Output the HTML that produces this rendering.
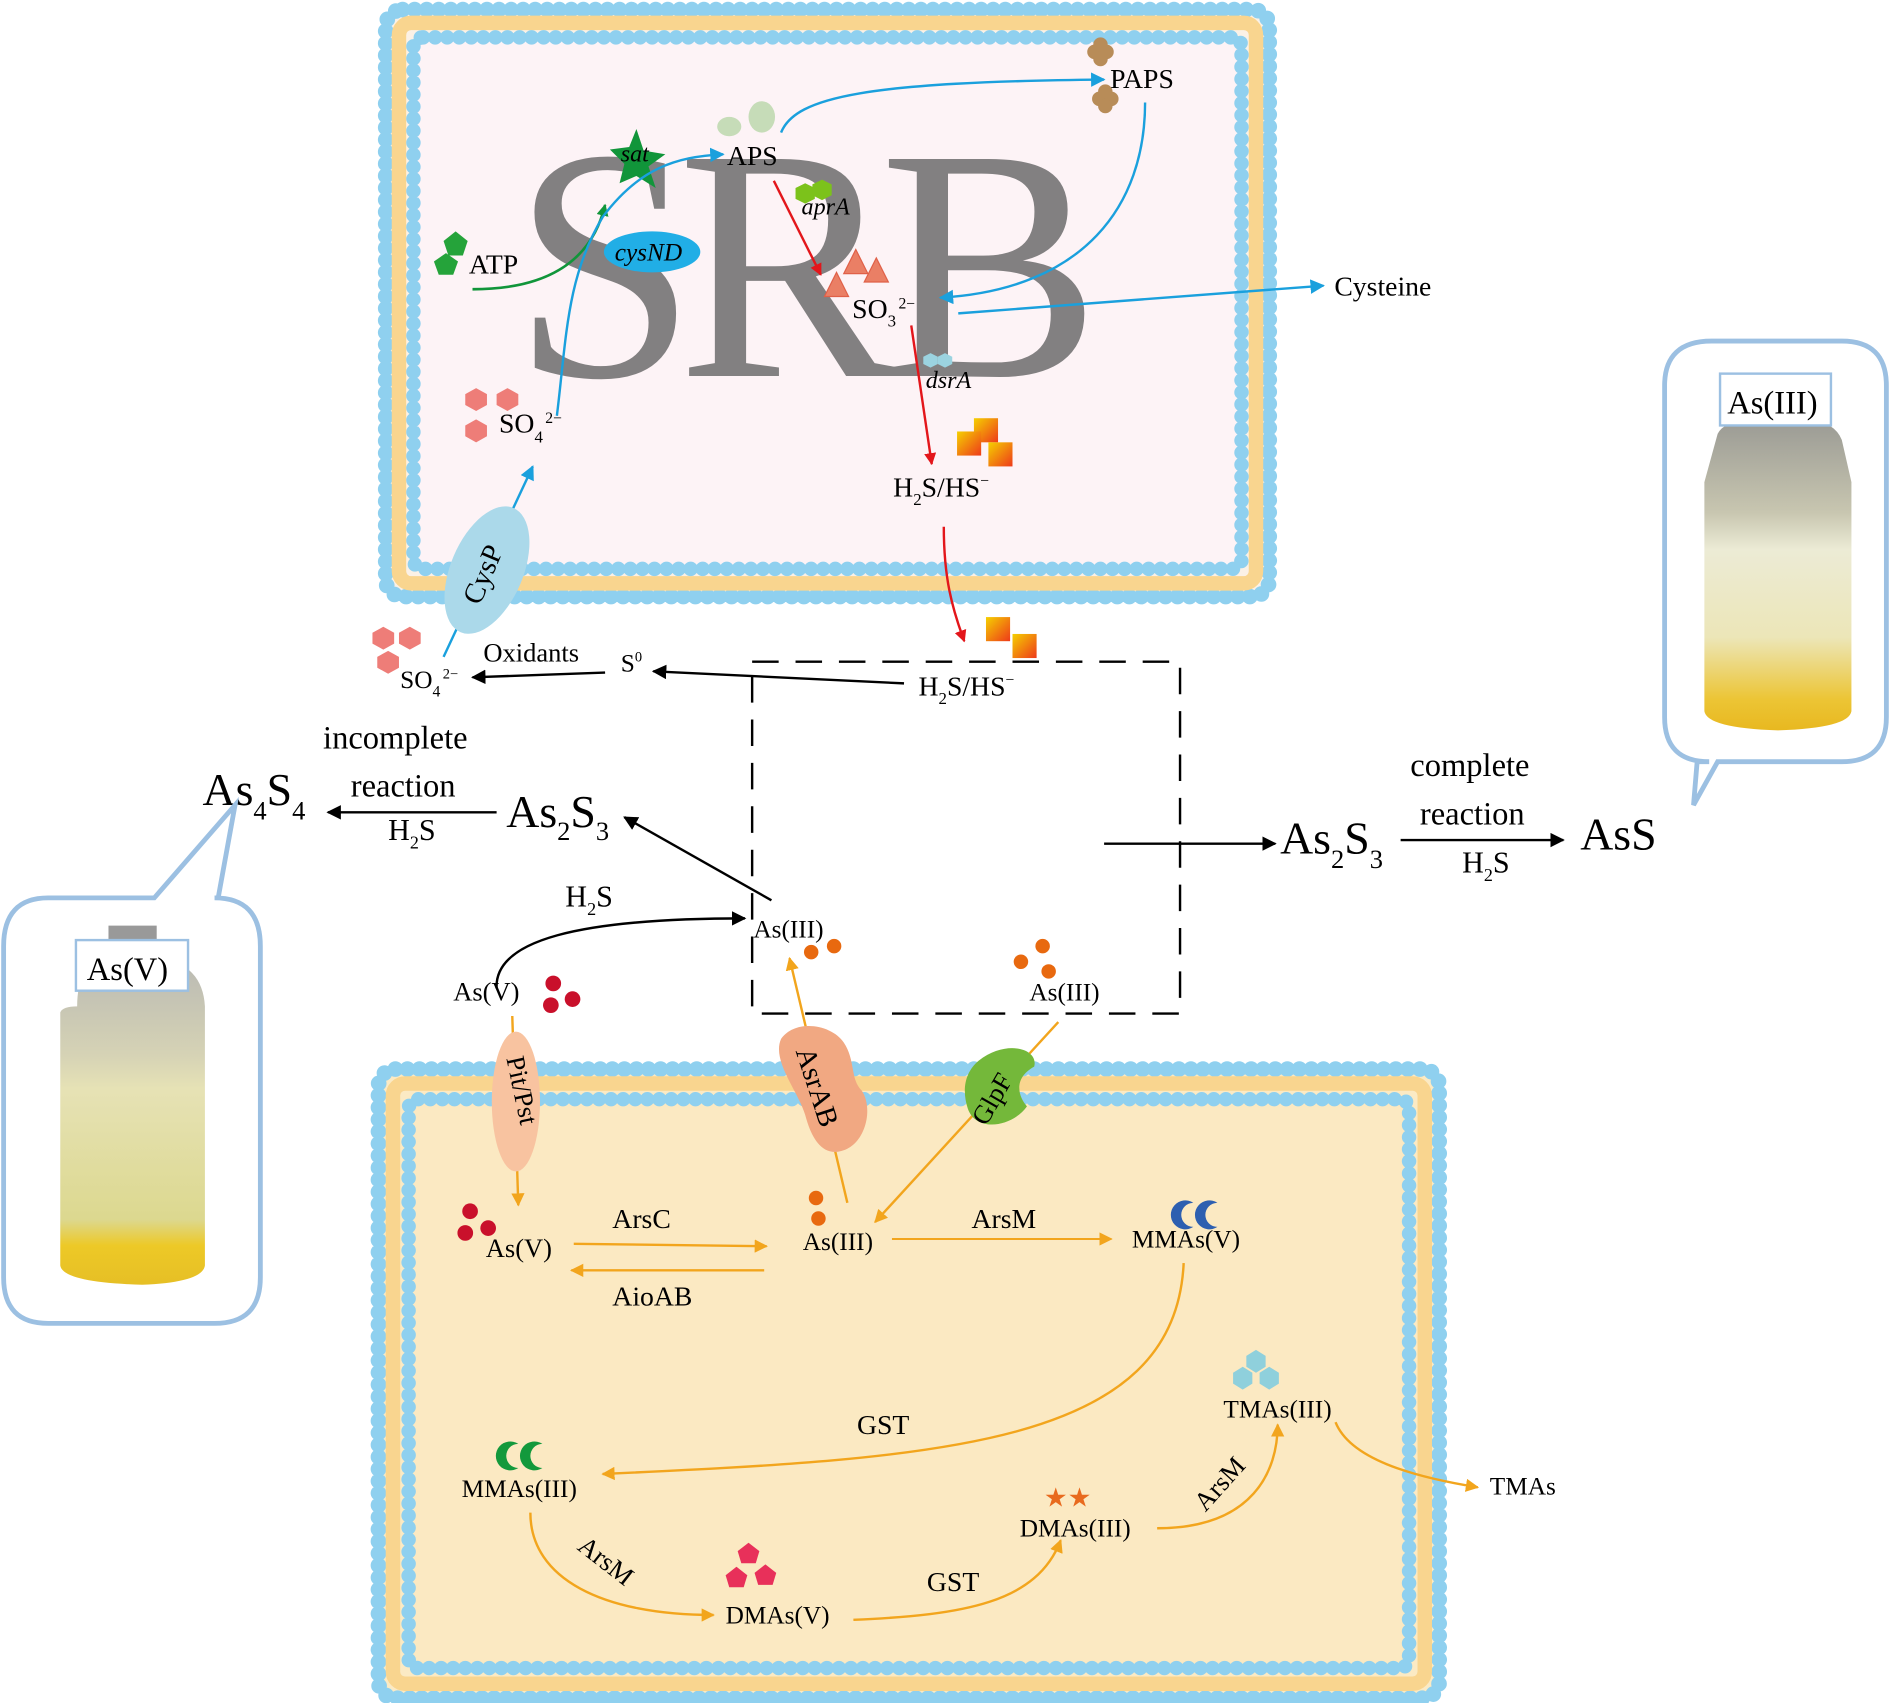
<!DOCTYPE html>
<html><head><meta charset="utf-8"><style>html,body{margin:0;padding:0;background:#fff}svg{display:block}text{font-family:"Liberation Serif",serif}</style></head>
<body>
<svg width="1890" height="1703" viewBox="0 0 1568 1413" preserveAspectRatio="none" xmlns="http://www.w3.org/2000/svg">
<defs>
<marker id="ab" viewBox="0 0 10 10" refX="9" refY="5" markerWidth="7" markerHeight="7" orient="auto" markerUnits="userSpaceOnUse"><path d="M0,0L10,5L0,10z" fill="#1aa0dd"/></marker>
<marker id="abB" viewBox="0 0 10 10" refX="9" refY="5" markerWidth="12" markerHeight="12" orient="auto" markerUnits="userSpaceOnUse"><path d="M0,0L10,5L0,10z" fill="#1aa0dd"/></marker>
<marker id="ar" viewBox="0 0 10 10" refX="9" refY="5" markerWidth="10" markerHeight="10" orient="auto" markerUnits="userSpaceOnUse"><path d="M0,0L10,5L0,10z" fill="#e3161b"/></marker>
<marker id="ak" viewBox="0 0 10 10" refX="9" refY="5" markerWidth="12" markerHeight="12" orient="auto" markerUnits="userSpaceOnUse"><path d="M0,0L10,5L0,10z" fill="#000"/></marker>
<marker id="ao" viewBox="0 0 10 10" refX="9" refY="5" markerWidth="11" markerHeight="11" orient="auto" markerUnits="userSpaceOnUse"><path d="M0,0L10,5L0,10z" fill="#f2a51d"/></marker>
<marker id="ag" viewBox="0 0 10 10" refX="9" refY="5" markerWidth="10" markerHeight="10" orient="auto" markerUnits="userSpaceOnUse"><path d="M0,0L10,5L0,10z" fill="#11953a"/></marker>
<linearGradient id="bot" x1="0" y1="0" x2="0" y2="1"><stop offset="0" stop-color="#b9b9b3"/><stop offset="0.3" stop-color="#d6d3b5"/><stop offset="0.4" stop-color="#e6e2b5"/><stop offset="0.8" stop-color="#dcd88f"/><stop offset="0.88" stop-color="#edc927"/><stop offset="1" stop-color="#e6bf25"/></linearGradient>
<linearGradient id="bot2" x1="0" y1="0" x2="0" y2="1"><stop offset="0" stop-color="#9a9a94"/><stop offset="0.3" stop-color="#c8c6b0"/><stop offset="0.42" stop-color="#ecebd5"/><stop offset="0.7" stop-color="#ece6b8"/><stop offset="0.9" stop-color="#ecc535"/><stop offset="1" stop-color="#e8b820"/></linearGradient>
<linearGradient id="sq" x1="0" y1="0" x2="1" y2="1"><stop offset="0" stop-color="#f5d000"/><stop offset="1" stop-color="#ee3a1a"/></linearGradient>
</defs>

<!-- top cell -->
<rect x="320" y="8" width="733" height="487" rx="14" fill="#fbf1e6" stroke="#8fd0ef" stroke-width="13" stroke-dasharray="0 10" stroke-linecap="round"/>
<rect x="331" y="19" width="711" height="465" rx="10" fill="none" stroke="#f9d58f" stroke-width="12"/>
<rect x="343" y="31" width="687" height="441" rx="8" fill="#fdf3f6" stroke="#8fd0ef" stroke-width="12" stroke-dasharray="0 10" stroke-linecap="round"/>
<text x="425" y="312" font-size="275" fill="#828081" textLength="488" lengthAdjust="spacing">SRB</text>

<!-- bottom cell -->
<rect x="314" y="887" width="880" height="522" rx="14" fill="#fbeac4" stroke="#8fd0ef" stroke-width="13" stroke-dasharray="0 10" stroke-linecap="round"/>
<rect x="326" y="899" width="856" height="498" rx="10" fill="none" stroke="#f9d58f" stroke-width="12"/>
<rect x="339" y="912" width="830" height="472" rx="8" fill="#fbe9c2" stroke="#8fd0ef" stroke-width="12" stroke-dasharray="0 10" stroke-linecap="round"/>

<!-- dashed box -->
<rect x="624" y="549" width="355" height="292" fill="none" stroke="#000" stroke-width="2" stroke-dasharray="22 14"/>

<!-- top shapes -->
<path d="M528,107 L534,125 L552,128 L538,138 L544,156 L528,146 L514,152 L518,136 L506,124 L522,122z" fill="#11953a"/>
<text x="515" y="134" font-size="20" font-style="italic">sat</text>
<polygon points="378,192 388,200 384,212 372,212 368,200" fill="#25a33a"/>
<polygon points="370,210 380,217 376,228 364,228 360,217" fill="#25a33a"/>
<text x="389" y="227" font-size="23">ATP</text>
<ellipse cx="541" cy="209" rx="40" ry="17" fill="#21aee6"/>
<text x="510" y="216" font-size="21" font-style="italic">cysND</text>
<ellipse cx="605" cy="105" rx="10" ry="8" fill="#c6dcb8"/><ellipse cx="632" cy="97" rx="11" ry="13" fill="#c6dcb8"/>
<text x="603" y="137" font-size="23">APS</text>
<g fill="#b88c58"><circle cx="908" cy="43" r="6"/><circle cx="918" cy="43" r="6"/><circle cx="913" cy="37" r="6"/><circle cx="913" cy="49" r="6"/><circle cx="912" cy="82" r="6"/><circle cx="922" cy="82" r="6"/><circle cx="917" cy="76" r="6"/><circle cx="917" cy="88" r="6"/></g>
<text x="921" y="73" font-size="23">PAPS</text>
<g fill="#7cc21b"><polygon points="668,152 676,156 676,165 668,169 660,165 660,156"/><polygon points="682,149 690,153 690,162 682,166 674,162 674,153"/></g>
<text x="665" y="178" font-size="20" font-style="italic">aprA</text>
<g fill="#ea7f65" stroke="#e06048" stroke-width="1"><polygon points="694,226 704,246 684,246"/><polygon points="710,207 720,227 700,227"/><polygon points="727,214 737,234 717,234"/></g>
<text x="707" y="264" font-size="23">SO<tspan font-size="14" dy="7">3</tspan><tspan font-size="13" dy="-15" dx="2">2−</tspan></text>
<text x="1107" y="245" font-size="23">Cysteine</text>
<g fill="#9bd3e0"><polygon points="772,293 778,296 778,302 772,305 766,302 766,296"/><polygon points="784,293 790,296 790,302 784,305 778,302 778,296"/></g>
<text x="768" y="322" font-size="20" font-style="italic">dsrA</text>
<g fill="#ee7d78"><polygon points="395,322 404,327 404,336 395,341 386,336 386,327"/><polygon points="421,322 430,327 430,336 421,341 412,336 412,327"/><polygon points="395,348 404,353 404,362 395,367 386,362 386,353"/></g>
<text x="414" y="359" font-size="23">SO<tspan font-size="14" dy="8">4</tspan><tspan font-size="13" dy="-16" dx="2">2−</tspan></text>
<rect x="808" y="347" width="20" height="20" fill="url(#sq)"/><rect x="794" y="358" width="20" height="20" fill="url(#sq)"/><rect x="820" y="367" width="20" height="20" fill="url(#sq)"/>
<text x="741" y="412" font-size="23">H<tspan font-size="14" dy="7">2</tspan><tspan dy="-7">S/HS</tspan><tspan font-size="13" dy="-9">−</tspan></text>

<!-- top arrows -->
<path d="M392,240 C450,240 490,220 502,170" fill="none" stroke="#11953a" stroke-width="2.2" marker-end="url(#ag)"/>
<path d="M462,345 C470,280 470,230 500,180 C530,140 560,130 600,128" fill="none" stroke="#1aa0dd" stroke-width="2" marker-end="url(#abB)"/>
<path d="M648,110 C660,80 720,68 916,66" fill="none" stroke="#1aa0dd" stroke-width="2" marker-end="url(#abB)"/>
<path d="M950,85 C950,170 900,240 780,247" fill="none" stroke="#1aa0dd" stroke-width="2" marker-end="url(#abB)"/>
<line x1="795" y1="260" x2="1098" y2="237" stroke="#1aa0dd" stroke-width="2" marker-end="url(#abB)"/>
<line x1="642" y1="150" x2="681" y2="228" stroke="#e3161b" stroke-width="2" marker-end="url(#ar)"/>
<line x1="756" y1="270" x2="773" y2="385" stroke="#e3161b" stroke-width="2" marker-end="url(#ar)"/>
<path d="M783,437 C783,480 790,505 800,532" fill="none" stroke="#e3161b" stroke-width="2" marker-end="url(#ar)"/>
<line x1="368" y1="545" x2="442" y2="387" stroke="#1aa0dd" stroke-width="2" marker-end="url(#abB)"/>
<ellipse cx="404" cy="473" rx="30" ry="56" transform="rotate(23 404 473)" fill="#abd9ea"/>
<text x="0" y="0" font-size="24" transform="translate(398,503) rotate(-67)">CysP</text>

<!-- middle -->
<rect x="818" y="512" width="20" height="20" fill="url(#sq)"/><rect x="840" y="526" width="20" height="20" fill="url(#sq)"/>
<text x="762" y="577" font-size="23">H<tspan font-size="14" dy="7">2</tspan><tspan dy="-7">S/HS</tspan><tspan font-size="13" dy="-9">−</tspan></text>
<line x1="750" y1="567" x2="542" y2="557" stroke="#000" stroke-width="2" marker-end="url(#ak)"/>
<text x="515" y="557" font-size="21">S<tspan font-size="12" dy="-8">0</tspan></text>
<line x1="502" y1="558" x2="392" y2="562" stroke="#000" stroke-width="2" marker-end="url(#ak)"/>
<text x="401" y="549" font-size="22">Oxidants</text>
<g fill="#ee7d78"><polygon points="318,520 327,525 327,534 318,539 309,534 309,525"/><polygon points="340,520 349,525 349,534 340,539 331,534 331,525"/><polygon points="322,540 331,545 331,554 322,559 313,554 313,545"/></g>
<text x="332" y="571" font-size="21">SO<tspan font-size="13" dy="7">4</tspan><tspan font-size="12" dy="-15" dx="2">2−</tspan></text>

<text x="268" y="621" font-size="27">incomplete</text>
<text x="291" y="661" font-size="27">reaction</text>
<text x="322" y="697" font-size="25">H<tspan font-size="15" dy="7">2</tspan><tspan dy="-7">S</tspan></text>
<line x1="412" y1="674" x2="272" y2="674" stroke="#000" stroke-width="2" marker-end="url(#ak)"/>
<text x="168" y="668" font-size="38">As<tspan font-size="22" dy="12">4</tspan><tspan dy="-12">S</tspan><tspan font-size="22" dy="12">4</tspan></text>
<text x="420" y="686" font-size="38">As<tspan font-size="22" dy="11">2</tspan><tspan dy="-11">S</tspan><tspan font-size="22" dy="11">3</tspan></text>
<line x1="640" y1="747" x2="518" y2="678" stroke="#000" stroke-width="2" marker-end="url(#ak)"/>

<line x1="916" y1="700" x2="1058" y2="700" stroke="#000" stroke-width="2" marker-end="url(#ak)"/>
<text x="1062" y="708" font-size="38">As<tspan font-size="22" dy="12">2</tspan><tspan dy="-12">S</tspan><tspan font-size="22" dy="12">3</tspan></text>
<text x="1170" y="644" font-size="27">complete</text>
<text x="1178" y="684" font-size="27">reaction</text>
<line x1="1162" y1="697" x2="1297" y2="697" stroke="#000" stroke-width="2" marker-end="url(#ak)"/>
<text x="1213" y="724" font-size="25">H<tspan font-size="15" dy="7">2</tspan><tspan dy="-7">S</tspan></text>
<text x="1311" y="705" font-size="38">AsS</text>

<text x="469" y="752" font-size="25">H<tspan font-size="15" dy="7">2</tspan><tspan dy="-7">S</tspan></text>
<path d="M412,820 C410,780 480,762 618,762" fill="none" stroke="#000" stroke-width="2" marker-end="url(#ak)"/>
<text x="625" y="778" font-size="21">As(III)</text>
<circle cx="673" cy="790" r="6" fill="#e8690f"/><circle cx="692" cy="785" r="6" fill="#e8690f"/>
<circle cx="865" cy="785" r="6" fill="#e8690f"/><circle cx="847" cy="798" r="6" fill="#e8690f"/><circle cx="870" cy="806" r="6" fill="#e8690f"/>
<text x="854" y="830" font-size="21">As(III)</text>
<text x="376" y="830" font-size="22">As(V)</text>
<circle cx="459" cy="816" r="6.5" fill="#c9102b"/><circle cx="457" cy="834" r="6.5" fill="#c9102b"/><circle cx="475" cy="829" r="6.5" fill="#c9102b"/>

<!-- transport -->
<line x1="425" y1="843" x2="430" y2="1000" stroke="#f2a51d" stroke-width="2" marker-end="url(#ao)"/>
<ellipse cx="428" cy="914" rx="20" ry="58" fill="#f8c3a0"/>
<text x="0" y="0" font-size="22" transform="translate(420,878) rotate(78)">Pit/Pst</text>
<line x1="703" y1="998" x2="655" y2="795" stroke="#f2a51d" stroke-width="2" marker-end="url(#ao)"/>
<path d="M648,862 C660,845 690,850 700,865 C710,880 705,895 715,905 C725,920 718,950 698,955 C680,960 672,940 668,925 C662,905 640,880 648,862z" fill="#f1a882"/>
<text x="0" y="0" font-size="24" transform="translate(660,872) rotate(72)">AsrAB</text>
<line x1="878" y1="848" x2="726" y2="1014" stroke="#f2a51d" stroke-width="2" marker-end="url(#ao)"/>
<path d="M812,880 C835,862 862,870 858,885 C840,895 845,910 852,918 C840,935 810,940 803,920 C798,905 800,890 812,880z" fill="#74b83a"/>
<text x="0" y="0" font-size="22" transform="translate(818,935) rotate(-60)">GlpF</text>

<!-- bottom pathway -->
<circle cx="390" cy="1005" r="6.5" fill="#c9102b"/><circle cx="386" cy="1023" r="6.5" fill="#c9102b"/><circle cx="405" cy="1019" r="6.5" fill="#c9102b"/>
<text x="403" y="1043" font-size="22">As(V)</text>
<line x1="476" y1="1032" x2="636" y2="1034" stroke="#f2a51d" stroke-width="2" marker-end="url(#ao)"/>
<text x="508" y="1019" font-size="23">ArsC</text>
<line x1="634" y1="1054" x2="474" y2="1054" stroke="#f2a51d" stroke-width="2" marker-end="url(#ao)"/>
<text x="508" y="1083" font-size="23">AioAB</text>
<circle cx="677" cy="994" r="6" fill="#e8690f"/><circle cx="679" cy="1011" r="6" fill="#e8690f"/>
<text x="666" y="1037" font-size="21">As(III)</text>
<line x1="740" y1="1028" x2="922" y2="1028" stroke="#f2a51d" stroke-width="1.6" marker-end="url(#ao)"/>
<text x="806" y="1019" font-size="23">ArsM</text>
<path d="M990,998 a12,12 0 1,0 0,20 a9,9 0 1,1 0,-20z" fill="#2d5fb0"/><path d="M1010,998 a12,12 0 1,0 0,20 a9,9 0 1,1 0,-20z" fill="#2d5fb0"/>
<text x="939" y="1035" font-size="21">MMAs(V)</text>
<path d="M982,1048 C975,1200 780,1210 500,1223" fill="none" stroke="#f2a51d" stroke-width="2" marker-end="url(#ao)"/>
<text x="711" y="1190" font-size="23">GST</text>
<path d="M430,1198 a12,12 0 1,0 0,20 a9,9 0 1,1 0,-20z" fill="#13993c"/><path d="M450,1198 a12,12 0 1,0 0,20 a9,9 0 1,1 0,-20z" fill="#13993c"/>
<text x="383" y="1242" font-size="21">MMAs(III)</text>
<path d="M440,1255 C440,1310 500,1340 592,1340" fill="none" stroke="#f2a51d" stroke-width="2" marker-end="url(#ao)"/>
<text x="0" y="0" font-size="22" transform="translate(478,1285) rotate(38)">ArsM</text>
<g fill="#e8305a"><polygon points="621,1280 630,1287 627,1297 615,1297 612,1287"/><polygon points="611,1300 620,1307 617,1317 605,1317 602,1307"/><polygon points="635,1298 644,1305 641,1315 629,1315 626,1305"/></g>
<text x="602" y="1347" font-size="21">DMAs(V)</text>
<path d="M708,1344 C800,1340 860,1330 880,1278" fill="none" stroke="#f2a51d" stroke-width="2" marker-end="url(#ao)"/>
<text x="769" y="1320" font-size="23">GST</text>
<text x="866" y="1250" font-size="22" fill="#e86a1e">★★</text>
<text x="846" y="1275" font-size="21">DMAs(III)</text>
<path d="M960,1268 C1040,1268 1060,1220 1060,1182" fill="none" stroke="#f2a51d" stroke-width="2" marker-end="url(#ao)"/>
<text x="0" y="0" font-size="22" transform="translate(1000,1255) rotate(-48)">ArsM</text>
<g fill="#8fd0dc"><polygon points="1042,1120 1050,1125 1050,1134 1042,1139 1034,1134 1034,1125"/><polygon points="1031,1134 1039,1139 1039,1148 1031,1153 1023,1148 1023,1139"/><polygon points="1053,1134 1061,1139 1061,1148 1053,1153 1045,1148 1045,1139"/></g>
<text x="1015" y="1176" font-size="21">TMAs(III)</text>
<path d="M1108,1180 C1120,1210 1170,1225 1226,1234" fill="none" stroke="#f2a51d" stroke-width="2" marker-end="url(#ao)"/>
<text x="1236" y="1240" font-size="21">TMAs</text>

<!-- left bubble -->
<path d="M40,745 L128,745 L195,668 L181,745 L178,745 Q216,745 216,785 L216,1060 Q216,1098 178,1098 L40,1098 Q3,1098 3,1060 L3,785 Q3,745 40,745z" fill="#fff" stroke="#9cc0e2" stroke-width="4"/>
<rect x="90" y="768" width="40" height="25" fill="#999"/>
<path d="M64,835 Q64,800 88,795 L132,795 Q168,800 170,835 L170,1050 Q168,1064 118,1066 Q52,1064 50,1050 L50,840 Q52,835 64,835z" fill="url(#bot)"/>
<rect x="63" y="780" width="93" height="42" fill="#fff" stroke="#9cc0e2" stroke-width="2"/>
<text x="72" y="813" font-size="27">As(V)</text>

<!-- right bubble -->
<path d="M1420,283 L1528,283 Q1565,283 1565,320 L1565,595 Q1565,632 1528,632 L1425,632 L1405,668 L1408,632 L1418,632 Q1381,632 1381,595 L1381,320 Q1381,283 1420,283z" fill="#fff" stroke="#9cc0e2" stroke-width="4"/>
<path d="M1425,360 Q1430,350 1450,348 L1500,348 Q1522,350 1528,365 L1536,400 L1536,590 Q1534,604 1475,606 Q1416,604 1414,590 L1414,400z" fill="url(#bot2)"/>
<rect x="1427" y="310" width="92" height="43" fill="#fff" stroke="#9cc0e2" stroke-width="2"/>
<text x="1433" y="343" font-size="27">As(III)</text>
</svg>
</body></html>
